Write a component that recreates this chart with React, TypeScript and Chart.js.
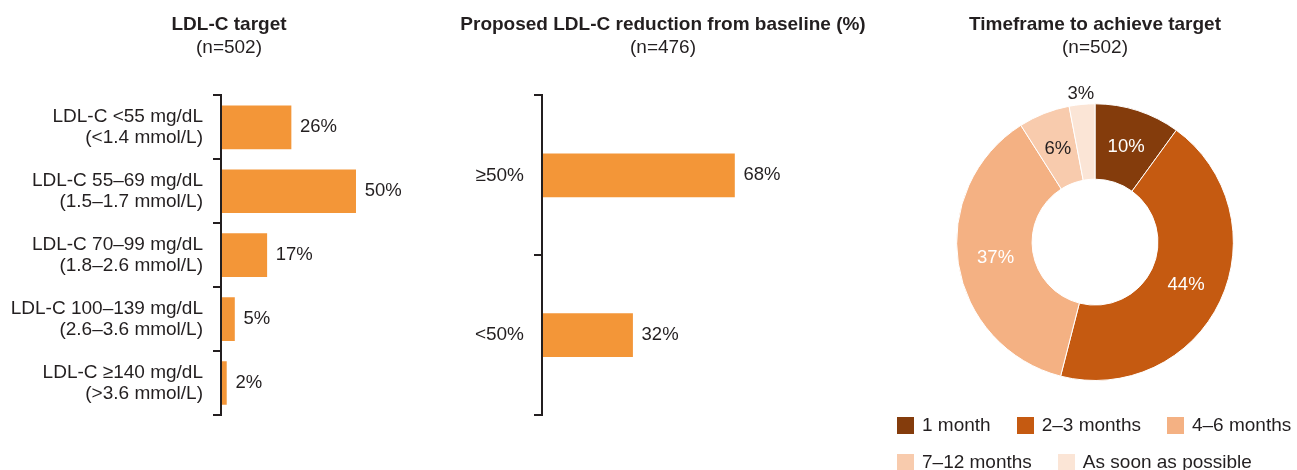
import { useEffect, useRef } from 'react';
import { Chart, registerables } from 'chart.js';

Chart.register(...registerables);

const FONT = "'Liberation Sans', Arial, Helvetica, sans-serif";
const INK = '#231F20';
const BAR_COLOR = '#F39638';

// LDL-C target (n=502)
const targetLabels = [
  ['LDL-C <55 mg/dL', '(<1.4 mmol/L)'],
  ['LDL-C 55–69 mg/dL', '(1.5–1.7 mmol/L)'],
  ['LDL-C 70–99 mg/dL', '(1.8–2.6 mmol/L)'],
  ['LDL-C 100–139 mg/dL', '(2.6–3.6 mmol/L)'],
  ['LDL-C ≥140 mg/dL', '(>3.6 mmol/L)'],
];
const targetValues = [26, 50, 17, 5, 2];

// Proposed LDL-C reduction from baseline (n=476)
const reductionLabels = ['≥50%', '<50%'];
const reductionValues = [68, 32];

// Timeframe to achieve target (n=502)
const timeframeLabels = ['1 month', '2–3 months', '4–6 months', '7–12 months', 'As soon as possible'];
const timeframeValues = [10, 44, 37, 6, 3];
const timeframeColors = ['#843C0C', '#C55A11', '#F4B183', '#F8CBAD', '#FBE5D6'];
const timeframeTextColors = ['#FFFFFF', '#FFFFFF', '#FFFFFF', INK, INK];

Chart.defaults.font.family = FONT;
Chart.defaults.color = INK;

const titleOpts = (text: string) => ({
  display: true,
  text,
  color: INK,
  font: { size: 19, weight: 'bold' as const, lineHeight: 1.2 },
  padding: { top: 13.6, bottom: 0 },
});

const subtitleOpts = (text: string, bottom: number) => ({
  display: true,
  text,
  color: INK,
  font: { size: 19, weight: 'normal' as const, lineHeight: 1.2 },
  padding: { top: 0, bottom },
});

// writes "26%" etc. just right of each bar
const barValueLabels = {
  id: 'barValueLabels',
  afterDatasetsDraw(chart: any) {
    const { ctx } = chart;
    const meta = chart.getDatasetMeta(0);
    const data = chart.data.datasets[0].data as number[];
    ctx.save();
    ctx.font = `18.5px ${FONT}`;
    ctx.fillStyle = INK;
    ctx.textAlign = 'left';
    ctx.textBaseline = 'middle';
    meta.data.forEach((bar: any, i: number) => {
      ctx.fillText(`${data[i]}%`, bar.x + 9, bar.y);
    });
    ctx.restore();
  },
};

// percentages on the donut, small slices get their label outside the ring
const donutValueLabels = {
  id: 'donutValueLabels',
  afterDatasetsDraw(chart: any) {
    const { ctx } = chart;
    const meta = chart.getDatasetMeta(0);
    const data = chart.data.datasets[0].data as number[];
    ctx.save();
    ctx.font = `18.5px ${FONT}`;
    ctx.textAlign = 'center';
    ctx.textBaseline = 'middle';
    meta.data.forEach((arc: any, i: number) => {
      const { x, y, startAngle, endAngle, innerRadius, outerRadius } = arc.getProps(
        ['x', 'y', 'startAngle', 'endAngle', 'innerRadius', 'outerRadius'],
        true
      );
      const mid = (startAngle + endAngle) / 2;
      const outside = data[i] < 5;
      const r = outside ? outerRadius + 11 : (innerRadius + outerRadius) / 2;
      ctx.fillStyle = outside ? INK : timeframeTextColors[i];
      ctx.fillText(`${data[i]}%`, x + r * Math.cos(mid), y + r * Math.sin(mid));
    });
    ctx.restore();
  },
};

function barConfig(title: string, subtitle: string, labels: any[], values: number[], max: number, axisWidth: number) {
  return {
    type: 'bar' as const,
    data: {
      labels,
      datasets: [{ data: values, backgroundColor: BAR_COLOR, barThickness: 43 }],
    },
    options: {
      indexAxis: 'y' as const,
      animation: false as const,
      responsive: true,
      maintainAspectRatio: false,
      layout: { padding: { top: 0, bottom: 55, left: 0, right: 0 } },
      plugins: {
        legend: { display: false },
        tooltip: { enabled: false },
        title: titleOpts(title),
        subtitle: subtitleOpts(subtitle, 36.2),
      },
      scales: {
        x: { display: false, min: 0, max },
        y: {
          afterFit: (scale: any) => {
            scale.width = axisWidth;
          },
          border: { display: true, color: INK, width: 2, z: 1 },
          grid: {
            offset: true,
            drawOnChartArea: false,
            drawTicks: true,
            tickLength: 8,
            color: INK,
            lineWidth: 2,
          },
          ticks: {
            padding: 10,
            color: INK,
            font: { size: 19, lineHeight: 1.1 },
          },
        },
      },
    },
    plugins: [barValueLabels],
  };
}

function donutConfig() {
  return {
    type: 'doughnut' as const,
    data: {
      labels: timeframeLabels,
      datasets: [
        {
          data: timeframeValues,
          backgroundColor: timeframeColors,
          borderColor: '#FFFFFF',
          borderWidth: 1,
          hoverOffset: 0,
        },
      ],
    },
    options: {
      animation: false as const,
      responsive: true,
      maintainAspectRatio: false,
      cutout: '45.5%',
      layout: { padding: { top: 0, bottom: 89, left: 0, right: 0 } },
      plugins: {
        legend: { display: false },
        tooltip: { enabled: false },
        title: titleOpts('Timeframe to achieve target'),
        subtitle: subtitleOpts('(n=502)', 44.1),
      },
    },
    plugins: [donutValueLabels],
  };
}

function ChartBox({ makeConfig, left, width }: { makeConfig: () => any; left: number; width: number }) {
  const canvasRef = useRef<HTMLCanvasElement>(null);

  useEffect(() => {
    if (!canvasRef.current) return;
    const chart = new Chart(canvasRef.current, makeConfig());
    return () => {
      chart.destroy();
    };
  }, []);

  return (
    <div style={{ position: 'absolute', left, top: 0, width, height: 470 }}>
      <canvas ref={canvasRef}></canvas>
    </div>
  );
}

function TimeframeLegend() {
  return (
    <div
      style={{
        position: 'absolute',
        left: 897,
        top: 416,
        width: 420,
        display: 'flex',
        flexWrap: 'wrap',
        columnGap: 26,
        rowGap: 19,
        fontFamily: FONT,
        fontSize: 19,
        color: INK,
      }}
    >
      {timeframeLabels.map((label, i) => (
        <div key={label} style={{ display: 'flex', alignItems: 'center', height: 18, whiteSpace: 'nowrap' }}>
          <span style={{ width: 17, height: 17, background: timeframeColors[i], marginRight: 8, flex: 'none' }}></span>
          <span style={{ lineHeight: '18px' }}>{label}</span>
        </div>
      ))}
    </div>
  );
}

export default function App() {
  return (
    <div
      style={{
        position: 'absolute',
        left: 0,
        top: 0,
        width: 1297,
        height: 470,
        overflow: 'hidden',
        background: '#FFFFFF',
      }}
    >
      <ChartBox
        left={0}
        width={458}
        makeConfig={() => barConfig('LDL-C target', '(n=502)', targetLabels, targetValues, 88, 221)}
      />
      <ChartBox
        left={450}
        width={426}
        makeConfig={() =>
          barConfig('Proposed LDL-C reduction from baseline (%)', '(n=476)', reductionLabels, reductionValues, 118, 92)
        }
      />
      <ChartBox left={893} width={404} makeConfig={donutConfig} />
      <TimeframeLegend />
    </div>
  );
}
